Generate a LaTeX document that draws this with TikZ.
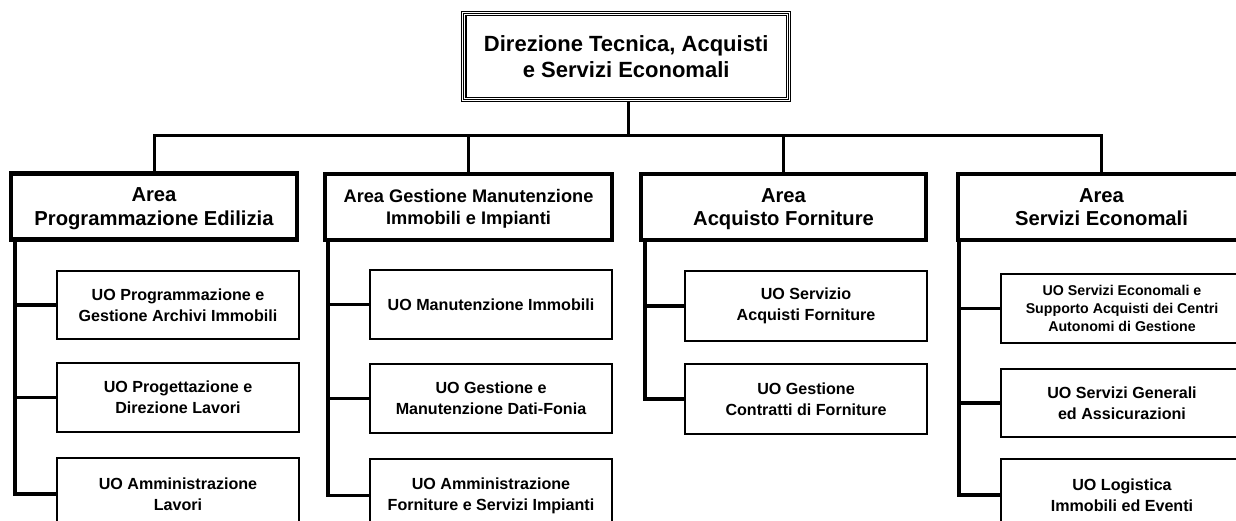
\documentclass[tikz,border=0pt]{standalone}
\usepackage{fontspec}
\setmainfont{Liberation Sans}
\usetikzlibrary{calc}
\begin{document}
\begin{tikzpicture}[x=1pt,y=-1pt,
  topbox/.style={draw,line width=1.2pt,inner sep=0pt,outer sep=0pt,minimum width=324.7pt,minimum height=85.7pt,text depth=-1pt,align=center,font=\bfseries\fontsize{22}{25.7}\selectfont},
  areabox/.style={draw,line width=4.5pt,fill=white,inner sep=0pt,outer sep=0pt,minimum height=66pt,text depth=-2pt,align=center,font=\bfseries\fontsize{20.2}{23.3}\selectfont},
  uobox/.style={draw,line width=2pt,fill=white,inner sep=0pt,outer sep=0pt,minimum width=242pt,align=center,font=\bfseries\fontsize{16.1}{21}\selectfont},
  conn/.style={line width=3pt},
  spine/.style={line width=3.5pt,line join=miter}
]
\useasboundingbox (0,0) rectangle (1236,521);
\clip (0,0) rectangle (1236,521);
\fill[white] (0,0) rectangle (1236,521);

% top
\node[topbox] (top) at (626.2,56.6) {Direzione Tecnica, Acquisti\\e Servizi Economali};
\draw[line width=1.2pt] ($(top.north west)+(-2.2,-2.2)$) rectangle ($(top.south east)+(2.2,2.2)$);
\draw[line width=1.2pt] ($(top.north west)+(2.1,2.1)$) rectangle ($(top.south east)+(-2.1,-2.1)$);

% areas
\node[areabox,minimum width=286pt] (a1) at (154,206.5) {Area\\Programmazione Edilizia};
\node[areabox,minimum width=287pt,font=\bfseries\fontsize{18.2}{22}\selectfont] (a2) at (468.5,207) {Area Gestione Manutenzione\\Immobili e Impianti};
\node[areabox,minimum width=285pt] (a3) at (783.5,207) {Area\\Acquisto Forniture};
\node[areabox,minimum width=287pt] (a4) at (1101.5,207) {Area\\Servizi Economali};

\coordinate (bar) at (0,136);
\coordinate (topfoot) at ($(top.south)+(2,2.2)$);
\draw[conn] (topfoot) -- (topfoot |- bar);
\draw[conn,line cap=rect] (a1.north |- bar) -- (a4.north |- bar);
\foreach \i in {1,2,3,4} {\draw[conn] (a\i.north) -- (a\i.north |- bar);}

% UO column 1
\node[uobox,minimum height=68pt] (u11) at (178,305) {UO Programmazione e\\Gestione Archivi Immobili};
\node[uobox,minimum height=69pt] (u12) at (178,397.5) {UO Progettazione e\\Direzione Lavori};
\node[uobox,minimum height=72pt] (u13) at (178,494) {UO Amministrazione\\Lavori};
% UO column 2
\node[uobox,minimum height=69pt] (u21) at (491,304.5) {UO Manutenzione Immobili};
\node[uobox,minimum height=69pt] (u22) at (491,398.5) {UO Gestione e\\Manutenzione Dati-Fonia};
\node[uobox,minimum height=73pt] (u23) at (491,495.5) {UO Amministrazione\\Forniture e Servizi Impianti};
% UO column 3
\node[uobox,minimum height=70pt] (u31) at (806,306) {UO Servizio\\Acquisti Forniture};
\node[uobox,minimum height=70pt] (u32) at (806,399) {UO Gestione\\Contratti di Forniture};
% UO column 4
\node[uobox,minimum height=69pt,font=\bfseries\fontsize{14.2}{18}\selectfont] (u41) at (1122,308.5) {UO Servizi Economali e\\Supporto Acquisti dei Centri\\Autonomi di Gestione};
\node[uobox,minimum height=68pt] (u42) at (1122,403) {UO Servizi Generali\\ed Assicurazioni};
\node[uobox,minimum height=72pt] (u43) at (1122,495) {UO Logistica\\Immobili ed Eventi};

% spines
\coordinate (s1) at (15,239);
\coordinate (s2) at (328,240);
\coordinate (s3) at (645,240);
\coordinate (s4) at (959,240);
\draw[spine] (s1) -- (s1 |- u13.west) -- (u13.west);
\draw[spine] (s1 |- u11.west) -- (u11.west);
\draw[spine] (s1 |- u12.west) -- (u12.west);
\draw[spine] (s2) -- (s2 |- u23.west) -- (u23.west);
\draw[spine] (s2 |- u21.west) -- (u21.west);
\draw[spine] (s2 |- u22.west) -- (u22.west);
\draw[spine] (s3) -- (s3 |- u32.west) -- (u32.west);
\draw[spine] (s3 |- u31.west) -- (u31.west);
\draw[spine] (s4) -- (s4 |- u43.west) -- (u43.west);
\draw[spine] (s4 |- u41.west) -- (u41.west);
\draw[spine] (s4 |- u42.west) -- (u42.west);
\end{tikzpicture}
\end{document}
